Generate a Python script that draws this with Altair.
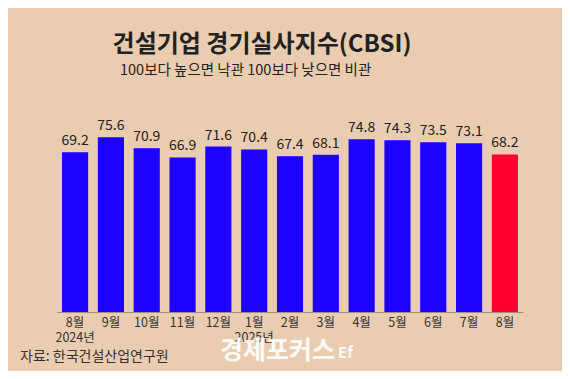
import altair as alt
import pandas as pd

months = ["8월", "9월", "10월", "11월", "12월", "1월", "2월", "3월", "4월", "5월", "6월", "7월", "8월"]
years = ["2024년", "", "", "", "", "2025년", "", "", "", "", "", "", ""]
values = [69.2, 75.6, 70.9, 66.9, 71.6, 70.4, 67.4, 68.1, 74.8, 74.3, 73.5, 73.1, 68.2]
colors = ["#1E00FF"] * 12 + ["#FF0033"]

title_text = "건설기업 경기실사지수(CBSI)"
subtitle_text = "100보다 높으면 낙관 100보다 낮으면 비관"
source_text = "자료: 한국건설산업연구원"
watermark_text = "경제포커스"

keys = []
for i, (m, y) in enumerate(zip(months, years)):
    k = m + ("|" + y if y else "")
    k = k + " " * (1 if i == len(months) - 1 else 0)
    keys.append(k)

df = pd.DataFrame({"key": keys, "value": values, "color": colors})

FONT = "Noto Sans CJK KR"

x_enc = alt.X(
    "key:N",
    sort=None,
    title=None,
    scale=alt.Scale(paddingInner=0.27, paddingOuter=0.14),
    axis=alt.Axis(
        labelExpr="split(datum.label, '|')",
        labelAngle=0,
        labelFont=FONT,
        labelFontSize=12.5,
        labelColor="#333333",
        labelPadding=4,
        labelLineHeight=15,
        ticks=False,
        domainColor="#9a8f86",
        domainWidth=1,
        grid=False,
    ),
)
y_enc = alt.Y("value:Q", scale=alt.Scale(domain=[0, 100]), axis=None)

bars = alt.Chart(df).mark_bar().encode(
    x=x_enc, y=y_enc, color=alt.Color("color:N", scale=None)
)

labels = alt.Chart(df).mark_text(
    baseline="bottom", dy=-4, font=FONT, fontSize=14, color="#222222"
).encode(x=alt.X("key:N", sort=None), y="value:Q", text=alt.Text("value:Q", format=".1f"))

def note(text, x, y, size, weight="normal", color="#222222", align="left", opacity=1.0):
    return alt.Chart(pd.DataFrame({"t": [text]})).mark_text(
        font=FONT, fontSize=size, fontWeight=weight, color=color, align=align,
        baseline="middle", opacity=opacity
    ).encode(x=alt.value(x), y=alt.value(y), text="t:N")

title = note(title_text, 205, -36, 24, weight="bold", color="#222222", align="center")
subtitle = note(subtitle_text, 63, -10, 14.5, color="#222222")
source = note(source_text, -37, 276, 14, color="#333333")
watermark = note(watermark_text, 163, 270, 25, weight="bold", color="#ffffff", opacity=0.9)
logo = note("Ef", 281, 272, 15, weight="bold", color="#ffffff", opacity=0.9)

chart = alt.layer(bars, labels, title, subtitle, source, watermark, logo).properties(
    width=466,
    height=231,
    autosize=alt.AutoSizeParams(type="none"),
    padding={"left": 49, "top": 73, "right": 39, "bottom": 59},
    background="#EACDB1",
).configure_view(stroke=None)

chart.save("out.html", embed_options={"renderer": "svg", "actions": False})
